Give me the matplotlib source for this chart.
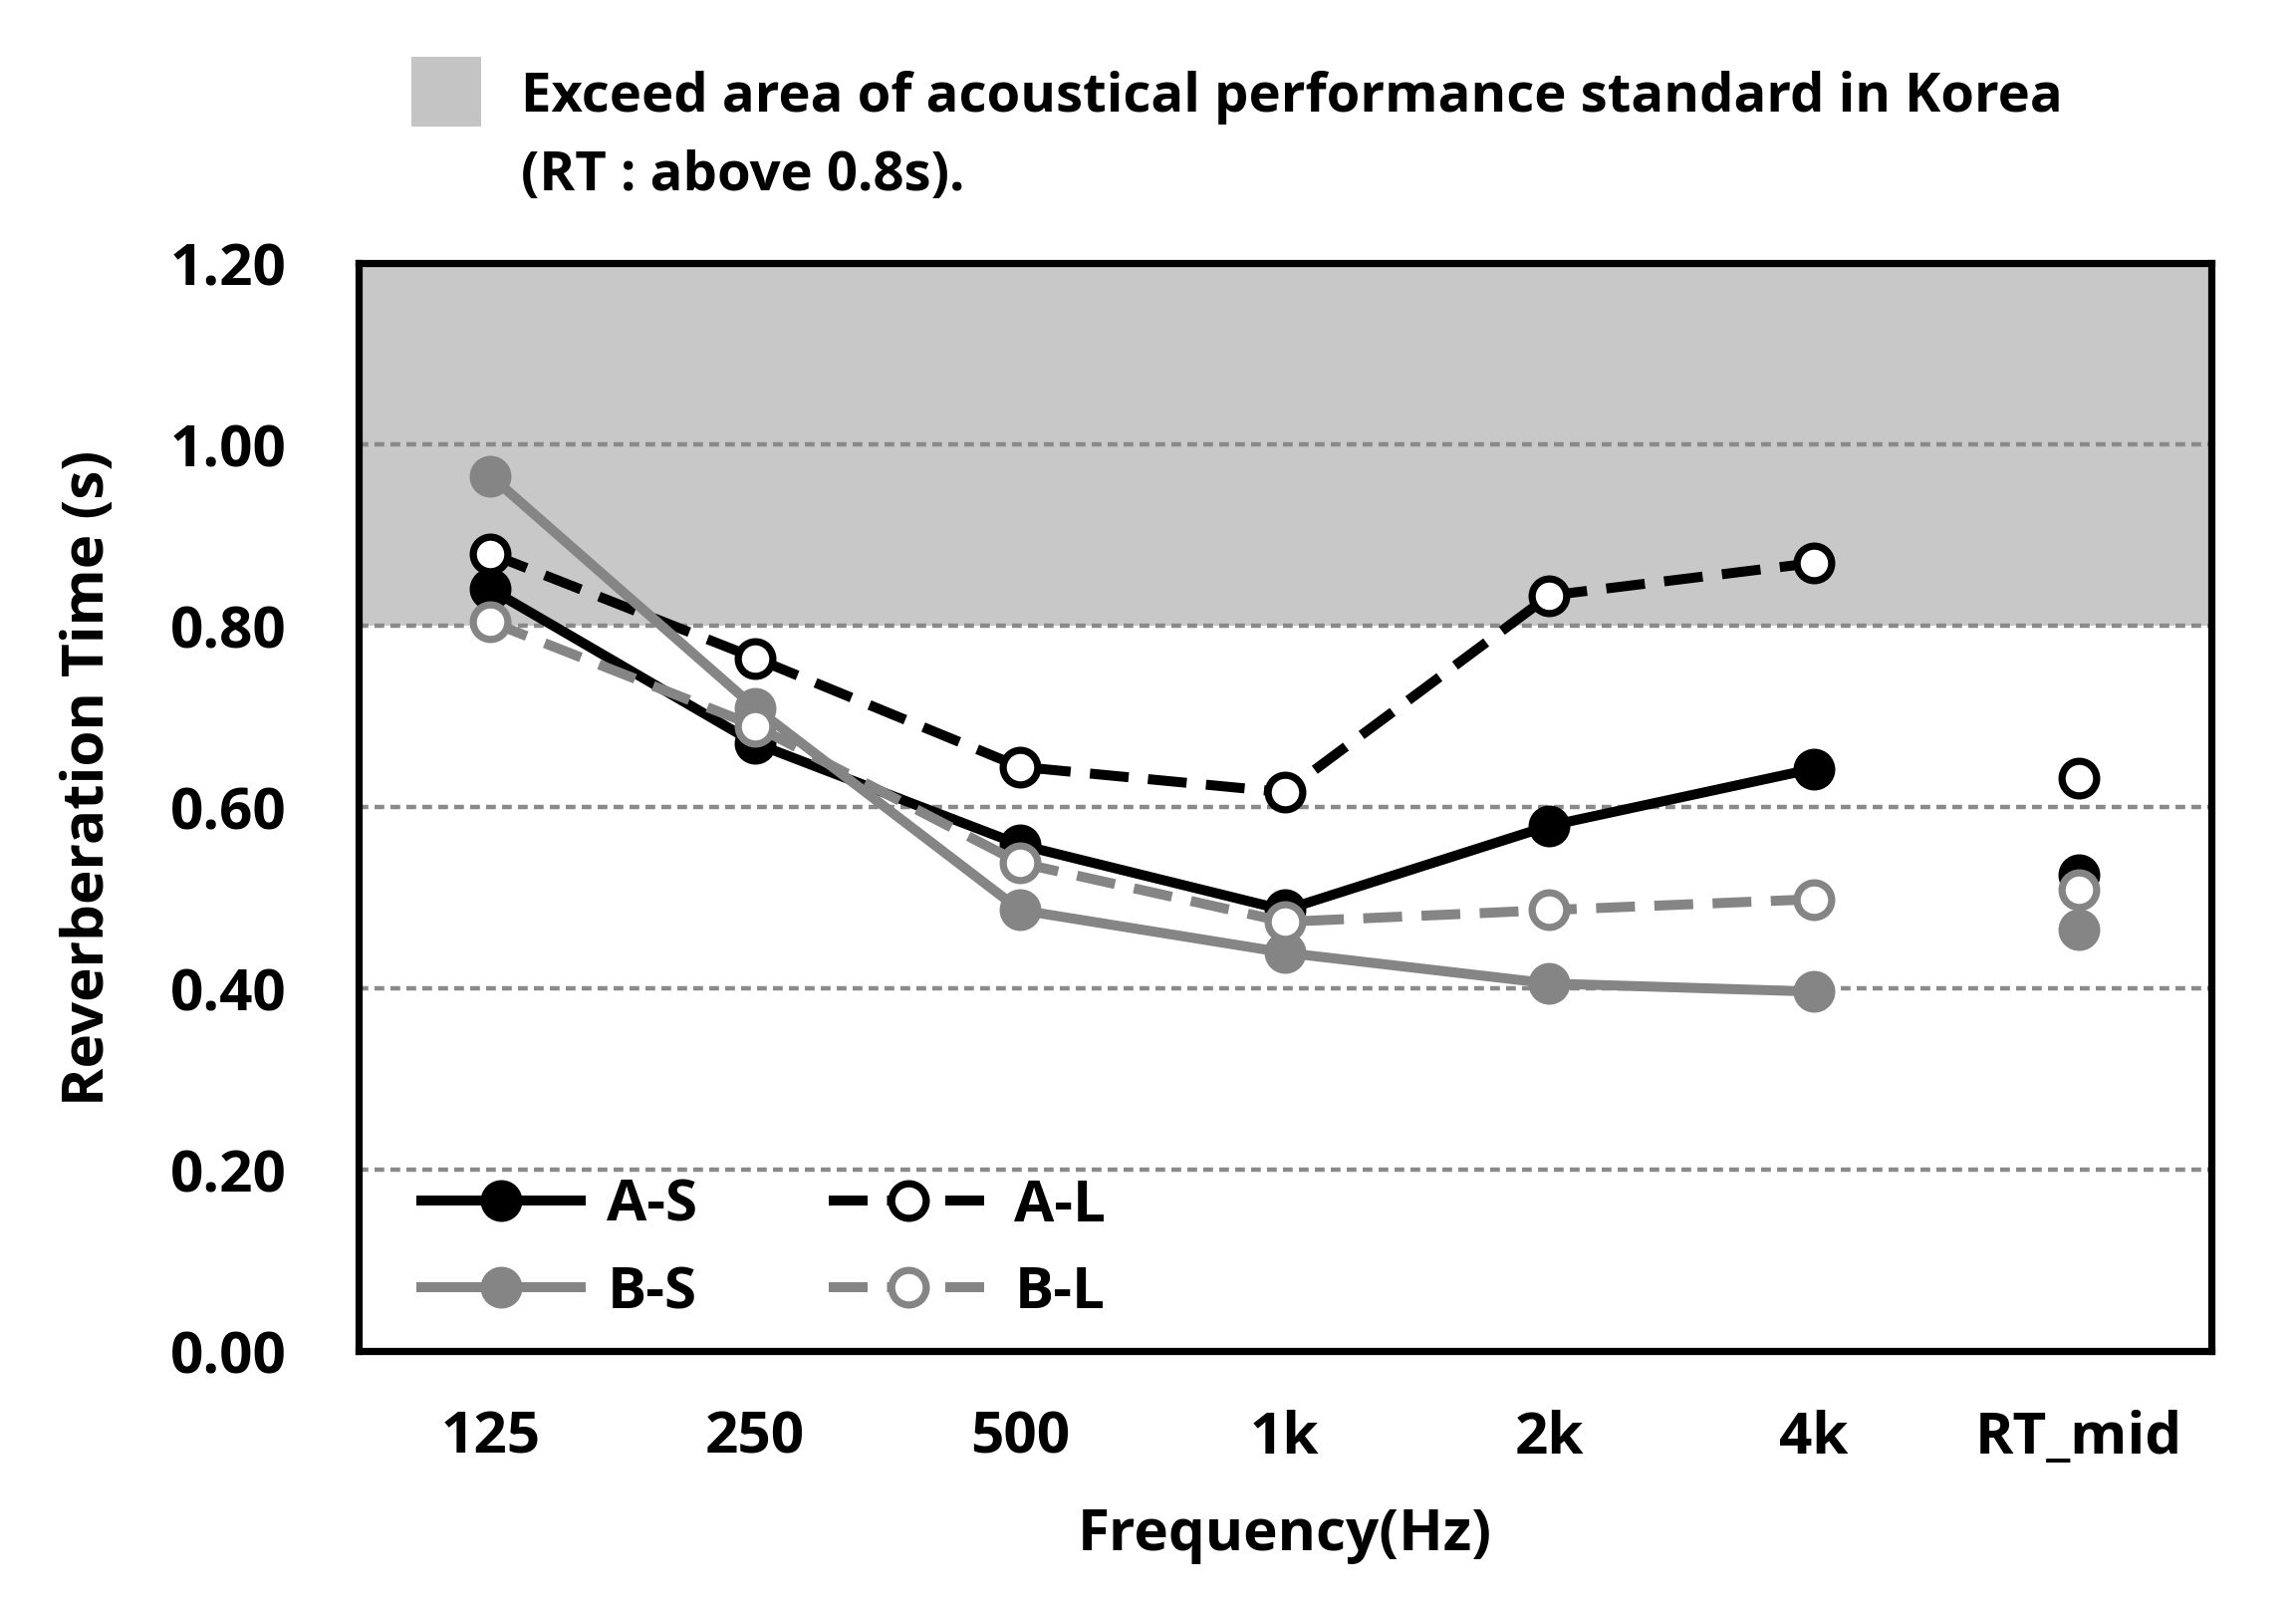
import matplotlib
matplotlib.use("Agg")
import matplotlib.pyplot as plt
from matplotlib.patches import Rectangle
from matplotlib.ticker import FormatStrFormatter

plt.rcParams['font.family'] = ['Open Sans', 'DejaVu Sans']
plt.rcParams['font.weight'] = 'bold'

categories = ['125', '250', '500', '1k', '2k', '4k', 'RT_mid']
a_s = [0.84, 0.67, 0.558, 0.486, 0.579, 0.642, 0.525]
a_l = [0.879, 0.764, 0.644, 0.616, 0.833, 0.869, 0.632]
b_s = [0.965, 0.709, 0.486, 0.439, 0.405, 0.396, 0.464]
b_l = [0.804, 0.689, 0.538, 0.473, 0.486, 0.498, 0.509]
yticks = [0.0, 0.2, 0.4, 0.6, 0.8, 1.0, 1.2]
limit_low, limit_high = 0.8, 1.2

BLACK = '#000000'
GRAY = '#858585'
SHADE = '#c8c8c8'
FS = 21

fig = plt.figure(figsize=(11.525, 8.075), dpi=200)
ax = fig.add_axes([0.156, 0.160, 0.807, 0.676])

x = list(range(len(categories)))
n = len(categories) - 1  # lines connect frequency bands only

ax.axhspan(limit_low, limit_high, color=SHADE, zorder=0, lw=0)
for yv in yticks[1:-1]:
    ax.axhline(yv, color='#8a8a8a', lw=1.6, dashes=(2.2, 1.4), zorder=1)

lw = 3.6
ms = 12.5
mew = 2.6
series = [
    ('A-S', a_s, BLACK, BLACK, '-'),
    ('A-L', a_l, BLACK, 'white', '--'),
    ('B-S', b_s, GRAY, GRAY, '-'),
    ('B-L', b_l, GRAY, 'white', '--'),
]
handles = {}
for name, vals, col, face, ls in series:
    kw = dict(color=col, lw=lw, marker='o', ms=ms, mfc=face, mec=col, mew=mew, zorder=3)
    if ls == '--':
        line, = ax.plot(x[:n], vals[:n], dashes=(3.9, 1.95), label=name, **kw)
    else:
        line, = ax.plot(x[:n], vals[:n], ls='-', label=name, **kw)
    ax.plot([x[n]], [vals[n]], ls='none', marker='o', ms=ms, mfc=face, mec=col, mew=mew, zorder=3)
    handles[name] = line

ax.set_xlim(-0.5, len(categories) - 0.5)
ax.set_ylim(0, 1.2)
ax.set_xticks(x)
ax.set_xticklabels(categories)
ax.set_yticks(yticks)
ax.yaxis.set_major_formatter(FormatStrFormatter('%.2f'))
ax.tick_params(axis='both', length=0, labelsize=FS)
ax.tick_params(axis='y', pad=26)
ax.tick_params(axis='x', pad=21)
for sp in ax.spines.values():
    sp.set_linewidth(2.6)
    sp.set_color('black')
    sp.set_zorder(5)

ax.set_xlabel('Frequency(Hz)', fontsize=FS, fontweight='bold')
ax.xaxis.set_label_coords(0.5, -0.142)
ax.set_ylabel('Reverberation Time (s)', fontsize=FS, fontweight='bold')
ax.yaxis.set_label_coords(-0.130, 0.527)

order = ['A-S', 'B-S', 'A-L', 'B-L']
ax.legend(handles=[handles[k] for k in order], labels=order,
          ncol=2, loc='center left', bbox_to_anchor=(0.034, 0.0935),
          frameon=False, fontsize=FS, handlelength=2.75, handletextpad=0.45,
          columnspacing=2.25, labelspacing=0.5, borderpad=0, borderaxespad=0)

fig.patches.append(Rectangle((0.179, 0.9207), 0.0304, 0.0433, transform=fig.transFigure,
                             facecolor='#c4c4c4', edgecolor='none'))
fig.text(0.227, 0.9307, 'Exceed area of acoustical performance standard in Korea',
         fontsize=19.6, fontweight='bold', va='baseline', ha='left')
fig.text(0.227, 0.8817, '(RT : above 0.8s).', fontsize=19.6, fontweight='bold',
         va='baseline', ha='left')

fig.savefig('out.png', dpi=200, facecolor='white')
